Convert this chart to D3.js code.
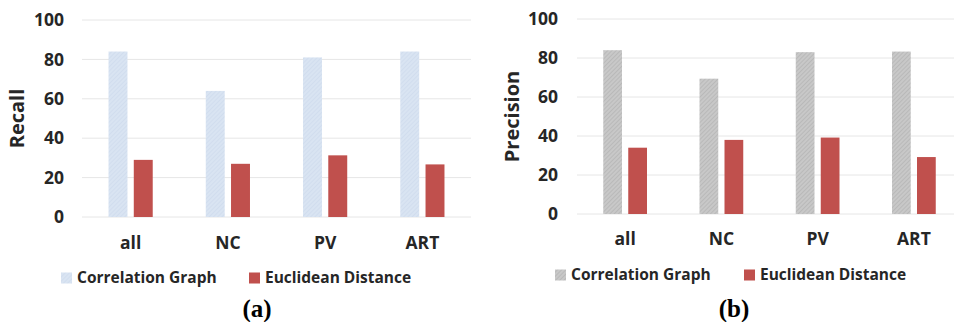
<!DOCTYPE html>
<html>
<head>
<meta charset="utf-8">
<script src="https://cdn.jsdelivr.net/npm/d3@7"></script>
<style>
  body { margin: 0; background: #fff; }
  svg { display: block; }
</style>
</head>
<body>
<svg id="chart" width="954" height="322"></svg>
<script>
// values
const categories = ["all", "NC", "PV", "ART"];
const seriesNames = ["Correlation Graph", "Euclidean Distance"];
const yTicks = [0, 20, 40, 60, 80, 100];

const recallCorrelation = [84, 64, 81, 84];
const recallEuclidean = [29, 27, 31.3, 26.7];

const precisionCorrelation = [84, 69.4, 83, 83.3];
const precisionEuclidean = [34, 38, 39.2, 29.2];

const svg = d3.select("#chart");
const defs = svg.append("defs");

// fine diagonal texture, like the printed bars
function hatch(id, base, line) {
    const p = defs.append("pattern")
        .attr("id", id)
        .attr("patternUnits", "userSpaceOnUse")
        .attr("width", 3)
        .attr("height", 3)
        .attr("patternTransform", "rotate(45)");
    p.append("rect").attr("width", 3).attr("height", 3).attr("fill", base);
    p.append("line")
        .attr("x1", 0).attr("y1", 0).attr("x2", 0).attr("y2", 3)
        .attr("stroke", line).attr("stroke-width", 1);
}
hatch("blueHatch", "#d9e4f2", "#c9d6ea");
hatch("grayHatch", "#c8c8c8", "#ababab");

const RED = "#c0504d";
const FONT = "Open Sans";

function drawPanel(opts) {

    const g = svg.append("g");

    const x = d3.scaleBand()
        .domain(categories)
        .range([opts.left, opts.right]);

    const y = d3.scaleLinear()
        .domain([0, 100])
        .range([opts.bottom, opts.top]);

    const sub = d3.scaleBand()
        .domain(seriesNames)
        .range([0, x.bandwidth()])
        .paddingInner(0.25)
        .paddingOuter(1.05);

    // gridlines
    g.append("g")
        .selectAll("line")
        .data(yTicks)
        .join("line")
        .attr("x1", opts.left)
        .attr("x2", opts.gridEnd)
        .attr("y1", d => y(d))
        .attr("y2", d => y(d))
        .attr("stroke", "#e6e6e6")
        .attr("stroke-width", 1);

    // y axis labels
    const yAxis = g.append("g")
        .attr("transform", "translate(" + opts.tickX + ",0)")
        .call(d3.axisLeft(y).tickValues(yTicks).tickSize(0).tickPadding(0));
    yAxis.select(".domain").remove();
    yAxis.selectAll("text")
        .attr("font-family", FONT)
        .attr("font-weight", "bold")
        .attr("font-size", 17.5)
        .attr("fill", "#262626");

    // x axis labels
    const xAxis = g.append("g")
        .attr("transform", "translate(0," + opts.catY + ")")
        .call(d3.axisBottom(x).tickSize(0).tickPadding(0));
    xAxis.select(".domain").remove();
    xAxis.selectAll("text")
        .attr("dy", "0.35em")
        .attr("font-family", FONT)
        .attr("font-weight", "bold")
        .attr("font-size", 17.5)
        .attr("fill", "#262626");

    const rows = categories.map((c, i) => ({
        cat: c,
        values: [opts.first[i], opts.second[i]]
    }));

    const fills = [opts.firstFill, RED];

    g.append("g")
        .selectAll("g")
        .data(rows)
        .join("g")
        .attr("transform", d => "translate(" + x(d.cat) + ",0)")
        .selectAll("rect")
        .data(d => d.values.map((v, j) => ({ name: seriesNames[j], v: v, j: j })))
        .join("rect")
        .attr("x", d => sub(d.name))
        .attr("width", sub.bandwidth())
        .attr("y", d => y(d.v))
        .attr("height", d => y(0) - y(d.v))
        .attr("fill", d => fills[d.j]);

    // axis title
    g.append("text")
        .attr("transform", "translate(" + opts.titleX + "," + ((opts.top + opts.bottom) / 2) + ") rotate(-90)")
        .attr("text-anchor", "middle")
        .attr("dy", "0.35em")
        .attr("font-family", FONT)
        .attr("font-weight", "bold")
        .attr("font-size", 20)
        .attr("fill", "#262626")
        .text(opts.title);

    // legend
    const legend = g.append("g")
        .attr("transform", "translate(0," + opts.legendY + ")");
    seriesNames.forEach((name, j) => {
        legend.append("rect")
            .attr("x", opts.legendX[j])
            .attr("y", -5.5)
            .attr("width", 11)
            .attr("height", 11)
            .attr("fill", fills[j]);
        legend.append("text")
            .attr("x", opts.legendX[j] + 16)
            .attr("dy", "0.35em")
            .attr("font-family", FONT)
            .attr("font-weight", "bold")
            .attr("font-size", 15.5)
            .attr("fill", "#262626")
            .text(name);
    });

    // caption
    g.append("text")
        .attr("x", opts.captionX)
        .attr("y", 308)
        .attr("dy", "0.35em")
        .attr("text-anchor", "middle")
        .attr("font-family", "Liberation Serif")
        .attr("font-weight", "bold")
        .attr("font-size", 25)
        .attr("fill", "#000")
        .text(opts.caption);
}

drawPanel({
    left: 82, right: 471, gridEnd: 471,
    top: 20, bottom: 217,
    tickX: 64, catY: 243, titleX: 17,
    title: "Recall",
    first: recallCorrelation, second: recallEuclidean,
    firstFill: "url(#blueHatch)",
    legendY: 278, legendX: [61, 249],
    captionX: 257, caption: "(a)"
});

drawPanel({
    left: 577, right: 962, gridEnd: 954,
    top: 19, bottom: 214,
    tickX: 558, catY: 239, titleX: 512,
    title: "Precision",
    first: precisionCorrelation, second: precisionEuclidean,
    firstFill: "url(#grayHatch)",
    legendY: 275, legendX: [555, 744],
    captionX: 734, caption: "(b)"
});
</script>
</body>
</html>
